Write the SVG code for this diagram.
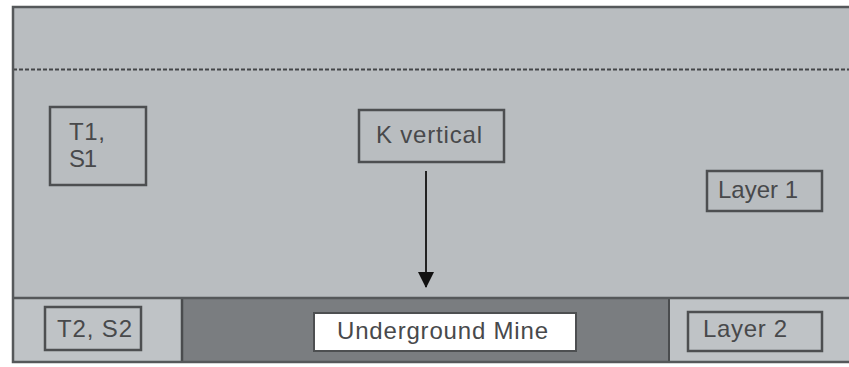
<svg xmlns="http://www.w3.org/2000/svg" width="849" height="367" viewBox="0 0 849 367">
<style>
.box{fill:none;stroke:#4d4f51;stroke-width:2.5}
.lbl{font-family:"Liberation Sans",Arial,sans-serif;font-size:24px;fill:#48494b}
.frame{stroke:#55585a;stroke-width:2.5;fill:none}
</style>
<defs>
<marker id="arr" markerWidth="16" markerHeight="18" refX="15" refY="9" orient="auto" markerUnits="userSpaceOnUse" viewBox="0 0 16 18">
<path d="M0,1 L16,9 L0,17 Z" fill="#111"/>
</marker>
</defs>
<rect width="849" height="367" fill="#ffffff"/>
<g id="layer1">
<rect x="13" y="7" width="840" height="291" fill="#b9bdc0"/>
<line x1="13" y1="69.5" x2="849" y2="69.5" stroke="#444648" stroke-width="2" stroke-dasharray="4,2"/>
</g>
<g id="layer2">
<rect x="13" y="298" width="169" height="64" fill="#bfc3c6"/>
<rect x="182" y="298" width="487" height="64" fill="#7a7d80"/>
<rect x="669" y="298" width="184" height="64" fill="#bfc3c6"/>
<line x1="182" y1="298" x2="182" y2="362" stroke="#4a4c4e" stroke-width="2.5"/>
<line x1="669" y1="298" x2="669" y2="362" stroke="#4a4c4e" stroke-width="2"/>
<line x1="13" y1="298" x2="849" y2="298" stroke="#55585a" stroke-width="2.5"/>
</g>
<path class="frame" d="M849,7 H13 V362 H849"/>
<g id="t1s1">
<rect class="box" x="50" y="107" width="96" height="78"/>
<text class="lbl" x="69" y="140" textLength="36" lengthAdjust="spacing">T1,</text>
<text class="lbl" x="69" y="167" textLength="28" lengthAdjust="spacing">S1</text>
</g>
<g id="kvertical">
<rect class="box" x="359" y="110" width="145" height="52"/>
<text class="lbl" x="376" y="143" textLength="106" lengthAdjust="spacing">K vertical</text>
</g>
<g id="layer1label">
<rect class="box" x="707" y="171" width="115" height="40"/>
<text class="lbl" x="718" y="198" textLength="80" lengthAdjust="spacing">Layer 1</text>
</g>
<g id="t2s2">
<rect class="box" x="45" y="307" width="96" height="43"/>
<text class="lbl" x="57" y="337" textLength="75" lengthAdjust="spacing">T2, S2</text>
</g>
<g id="mine">
<rect x="314" y="313" width="262" height="38" fill="#ffffff" stroke="#4d4f51" stroke-width="2"/>
<text class="lbl" x="337" y="339" textLength="211" lengthAdjust="spacing">Underground Mine</text>
</g>
<g id="layer2label">
<rect class="box" x="688" y="312" width="134" height="39"/>
<text class="lbl" x="703" y="337" textLength="84" lengthAdjust="spacing">Layer 2</text>
</g>
<g id="connectors">
<line x1="426" y1="171" x2="426" y2="287" stroke="#222" stroke-width="2" marker-end="url(#arr)"/>
</g>
</svg>
